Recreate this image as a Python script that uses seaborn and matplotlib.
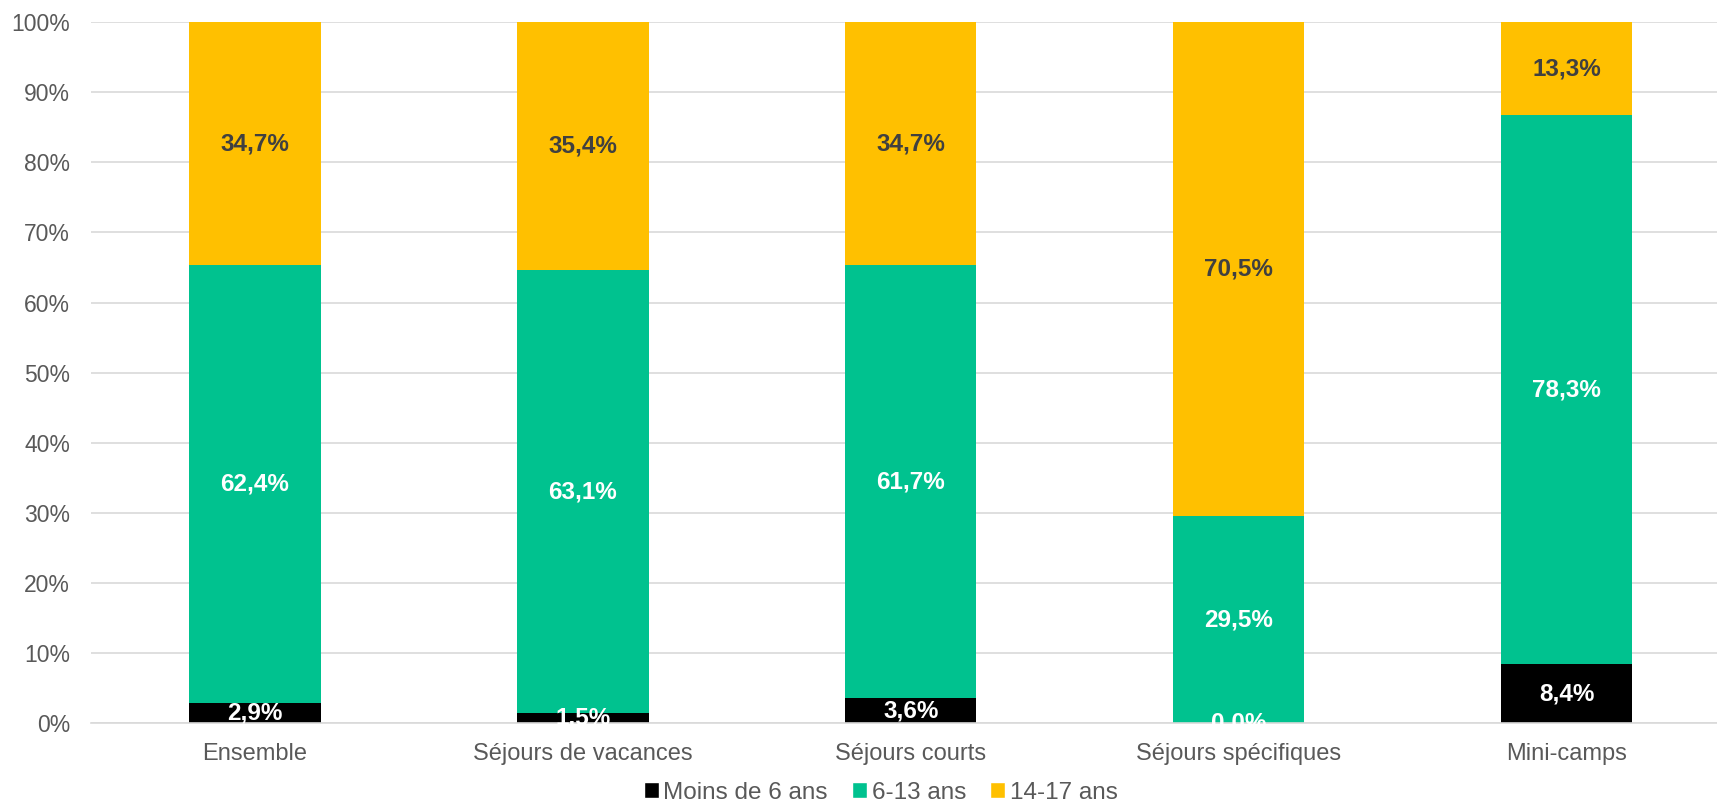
import numpy as np
import pandas as pd
import matplotlib
matplotlib.use('Agg')
import matplotlib.pyplot as plt
import seaborn as sns
from matplotlib.patches import Patch

sns.set_style('white')
plt.rcParams['font.family'] = ['Liberation Sans', 'DejaVu Sans']

# données
categories = ['Ensemble', 'Séjours de vacances', 'Séjours courts', 'Séjours spécifiques', 'Mini-camps']
moins_6 = [2.9, 1.5, 3.6, 0.0, 8.4]
ans_6_13 = [62.4, 63.1, 61.7, 29.5, 78.3]
ans_14_17 = [34.7, 35.4, 34.7, 70.5, 13.3]
series_names = ['Moins de 6 ans', '6-13 ans', '14-17 ans']
colors = ['#000000', '#00C28F', '#FFC000']
text_colors = ['white', 'white', '#404040']

df = pd.DataFrame({'cat': categories, 'Moins de 6 ans': moins_6,
                   '6-13 ans': ans_6_13, '14-17 ans': ans_14_17})

fig = plt.figure(figsize=(17.17, 8.11), dpi=100)
ax = fig.add_axes([0.053, 0.108, 0.955, 0.865])

bottom = np.zeros(len(categories))
for name, col, tcol in zip(series_names, colors, text_colors):
    vals = df[name].values
    sns.barplot(x=df['cat'], y=vals, bottom=bottom, color=col, width=0.4,
                ax=ax, saturation=1, linewidth=0, errorbar=None)
    for i, v in enumerate(vals):
        ax.text(i, bottom[i] + v / 2, f'{v:.1f}%'.replace('.', ','),
                ha='center', va='center', fontsize=17.5, fontweight='bold', color=tcol)
    bottom += vals

ax.set_ylim(0, 100)
ax.set_xlim(-0.5, len(categories) - 0.5)
ax.set_yticks(np.arange(0, 101, 10))
ax.set_yticklabels([f'{t}%' for t in range(0, 101, 10)])
ax.yaxis.grid(True, color='#D9D9D9', linewidth=1.2)
ax.set_axisbelow(True)
for s in ['top', 'right', 'left']:
    ax.spines[s].set_visible(False)
ax.spines['bottom'].set_color('#D9D9D9')
ax.spines['bottom'].set_linewidth(1.2)
ax.tick_params(axis='both', length=0, labelsize=16.5, colors='#595959')
ax.tick_params(axis='y', pad=15)
ax.tick_params(axis='x', pad=14, labelsize=17)
ax.set_xlabel('')
ax.set_ylabel('')

handles = [Patch(facecolor=c, label=n) for n, c in zip(series_names, colors)]
fig.legend(handles=handles, loc='lower center', bbox_to_anchor=(0.513, -0.018), ncol=3,
           frameon=False, fontsize=17.5, handlelength=0.6, handleheight=0.6,
           handletextpad=0.2, columnspacing=1.0, labelcolor='#595959')

fig.savefig('out.png', dpi=100)
